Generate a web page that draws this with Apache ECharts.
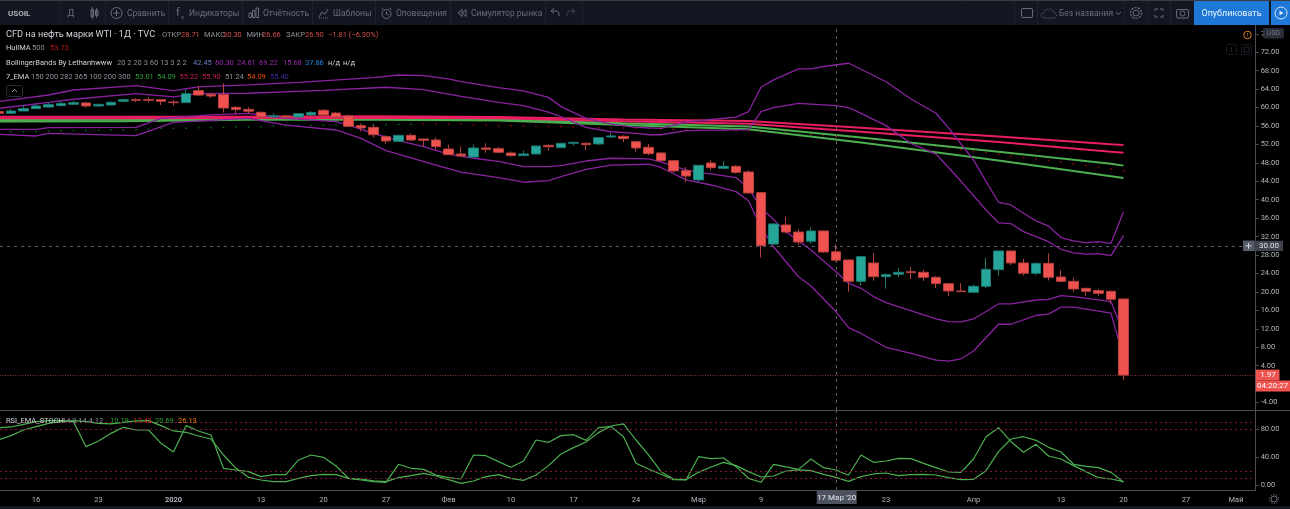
<!DOCTYPE html>
<html lang="ru">
<head>
<meta charset="utf-8">
<title>USOIL 1D</title>
<style>
html,body{margin:0;padding:0;background:#000;overflow:hidden}
#chart{width:1290px;height:509px}
</style>
<script src="https://cdn.jsdelivr.net/npm/echarts@6/dist/echarts.min.js"></script>
</head>
<body>
<div id="chart"></div>
<script>
// Trading days shown on the time axis, including the empty days to the right of the last bar
const dates = ['12-11','12-12','12-13','12-16','12-17','12-18','12-19','12-20','12-23','12-24','12-26','12-27','12-30','12-31',
  '01-02','01-03','01-06','01-07','01-08','01-09','01-10','01-13','01-14','01-15','01-16','01-17','01-20','01-21','01-22','01-23','01-24','01-27','01-28','01-29','01-30','01-31',
  '02-03','02-04','02-05','02-06','02-07','02-10','02-11','02-12','02-13','02-14','02-17','02-18','02-19','02-20','02-21','02-24','02-25','02-26','02-27','02-28',
  '03-02','03-03','03-04','03-05','03-06','03-09','03-10','03-11','03-12','03-13','03-16','03-17','03-18','03-19','03-20','03-23','03-24','03-25','03-26','03-27','03-30','03-31',
  '04-01','04-02','04-03','04-06','04-07','04-08','04-09','04-13','04-14','04-15','04-16','04-17','04-20',
  '04-21','04-22','04-23','04-24','04-27','04-28','04-29','04-30','05-01','05-04'];

const dateLabels = {'12-16':'16','12-23':'23','01-02':'2020','01-13':'13','01-20':'20','01-27':'27','02-03':'Фев','02-10':'10','02-17':'17','02-24':'24','03-02':'Мар','03-09':'9','03-23':'23','04-01':'Апр','04-13':'13','04-20':'20','04-27':'27','05-01':'Май'};

// Daily WTI prices
const opens = [59.10,58.75,59.25,59.76,60.10,60.40,60.70,61.00,60.34,60.55,61.35,61.72,61.72,61.72,61.20,61.06,63.66,62.87,62.80,60.05,59.60,58.97,58.00,58.17,57.95,58.40,59.40,58.80,58.17,56.07,55.70,53.69,52.67,53.97,53.18,52.96,51.00,49.93,49.27,51.23,51.08,50.14,49.57,49.93,51.80,51.30,52.24,52.24,52.10,53.61,53.76,52.60,51.37,50.14,48.48,46.30,44.30,47.97,46.82,47.25,46.02,41.54,30.40,34.53,33.00,30.99,33.23,28.71,26.94,22.30,26.29,23.32,23.83,24.40,24.26,23.18,21.80,20.21,19.93,21.23,24.84,28.89,26.29,24.05,26.20,23.25,22.30,20.79,20.29,20.14,18.48];
const closes = [58.75,59.25,59.76,60.34,60.63,60.90,61.06,60.34,60.70,61.13,61.70,61.57,61.57,61.35,61.06,63.00,62.70,62.50,59.90,59.55,59.20,58.00,58.20,57.95,58.67,58.90,58.40,57.95,55.93,55.57,54.10,52.75,53.97,52.96,52.89,51.52,49.78,49.50,51.23,50.94,50.30,49.57,49.93,51.66,51.50,52.24,52.46,51.95,53.47,53.83,53.25,51.23,50.00,48.50,46.24,45.15,47.47,46.96,47.25,45.95,41.47,30.10,34.75,33.00,30.84,33.23,28.67,26.90,22.30,27.66,23.32,23.76,24.26,24.19,23.18,21.80,20.21,20.07,21.23,24.90,28.89,26.29,24.05,26.20,23.18,22.30,20.65,20.14,19.71,18.41,1.97];
const lows = [58.60,58.60,59.20,59.70,60.05,60.27,60.55,60.05,60.10,60.40,61.13,61.20,61.13,60.55,60.40,61.00,62.50,62.07,58.90,58.75,58.75,57.67,57.67,57.15,57.70,58.20,57.90,57.80,55.70,54.80,53.50,52.10,52.50,52.75,51.50,50.87,49.70,49.30,49.20,50.20,50.07,49.42,49.50,49.90,50.60,51.20,51.73,50.80,51.90,53.40,52.53,50.43,49.70,48.40,45.90,43.80,43.93,46.45,46.60,45.66,41.40,27.44,30.20,32.70,30.20,30.40,28.50,26.66,20.07,21.37,22.45,20.72,23.20,22.80,22.38,20.86,19.13,19.99,19.85,20.80,23.54,25.85,23.54,23.60,22.50,22.10,20.00,19.20,19.13,17.54,0.90];
const highs = [59.20,59.70,60.50,60.77,61.06,61.35,61.50,61.20,60.85,61.28,61.90,62.00,62.30,61.86,61.64,64.03,64.74,63.20,65.26,60.34,60.05,59.10,58.75,58.40,58.80,59.25,59.70,59.00,58.50,56.50,56.30,54.00,54.10,54.40,53.25,53.50,51.95,51.50,51.95,52.24,51.45,50.50,50.65,51.75,52.00,52.35,52.55,52.40,53.55,54.55,53.95,52.70,52.10,50.35,48.65,47.10,47.55,48.60,48.40,47.50,46.40,41.60,34.85,36.34,33.60,34.00,33.30,30.30,27.05,27.75,28.45,24.00,25.13,25.35,24.77,23.45,21.95,21.88,21.60,27.37,28.95,28.95,27.15,26.43,28.40,24.70,23.10,20.90,20.57,20.30,18.55];

// Bollinger band vertices as [bar, price]
const bandOuterUpper = [[0,61.28],[4,62.72],[6,63.8],[11,64.75],[14,63.66],[16,64.5],[20,64.9],[24,65.47],[30,66.5],[32,67.06],[34,66.9],[36,66.2],[37,65.6],[40,64.3],[42,63.6],[44,62.2],[45,60.2],[47,57.66],[49,56.4],[51,55.7],[53,55.5],[55,56.9],[57,57.4],[59,57.9],[60,59.1],[61,64.4],[62,66],[64,68.4],[65,68.4],[66,68.9],[68,69.6],[69,68.3],[71,65.6],[73,61.85],[75,58.75],[76,55.6],[78,48.6],[79,44],[80,39.45],[81,38.87],[82,37.06],[83,35.4],[84,34.3],[85,31.8],[86,31.06],[87,30.7],[88,30.9],[89,30.55],[90,37.42]];
const bandInnerUpper = [[0,59.8],[4,61.1],[6,61.8],[11,63],[14,62.3],[16,63],[20,63.1],[26,63.7],[31,64.4],[34,63.9],[37,62.4],[40,61.1],[42,60.4],[44,59],[45,58],[47,55.7],[49,54.75],[51,54.4],[52,54.1],[53,54.1],[55,55],[58,55.1],[60,55.2],[61,59.1],[62,60],[64,60.9],[67,60.4],[68,60],[69,58.75],[71,56.07],[73,52.2],[75,49.9],[76,47],[77,44],[79,37.78],[80,35],[81,34.8],[82,33.08],[83,32],[84,30.9],[85,29.25],[86,28.5],[87,28.2],[88,28.3],[89,27.88],[90,32.2]];
const bandInnerLower = [[0,55.28],[3,55.28],[4,55.64],[11,55.71],[13,57.66],[17,58.4],[20,58.75],[23,57.66],[27,56.94],[28,56.2],[30,54.4],[32,52.8],[34,51.5],[36,49.9],[38,49],[40,48.3],[42,47.2],[44,47.2],[45,47.4],[47,48.4],[49,49],[52,48.85],[53,48.2],[54,47.3],[55,46.5],[56,45.9],[57,45.6],[59,44.8],[60,42.5],[61,38.3],[63,33.08],[65,29.1],[67,24.4],[68,21.9],[69,20.8],[70,19],[71,17.7],[75,14.14],[76,13.56],[77,13.5],[78,14.14],[80,17.4],[81,17.4],[83,18.26],[84,18.4],[85,19.2],[86,19],[89,17.9],[90,11.2]];
const bandOuterLower = [[0,54.2],[3,53.83],[4,54.4],[11,53.9],[14,56.8],[20,57.66],[23,56.2],[27,55.13],[29,53.3],[31,50.65],[33,49.1],[35,47.5],[37,46],[40,44.8],[42,43.8],[44,44.15],[45,45],[47,46.6],[49,47.5],[52,47.7],[53,47],[55,44.3],[57,43.2],[59,41.76],[60,39.8],[61,34],[62,29.8],[64,23.3],[65,21.3],[67,15.7],[68,12.26],[69,11],[71,8],[73,6.7],[75,5.2],[76,5],[77,5.5],[78,7.2],[80,13],[81,13],[83,14.9],[84,15.2],[85,16.7],[86,16.7],[89,15.4],[90,5.7]];

// Moving averages as [bar, price]
const emaRedHigh = [[0,58.0],[10,58.0],[20,58.0],[30,58.1],[40,57.95],[50,57.4],[60,57.1],[69,55.6],[80,53.7],[89,52.05],[90,51.88]];
const emaRedLow = [[0,57.7],[10,57.7],[20,57.75],[30,57.8],[40,57.65],[50,57.0],[60,56.5],[69,54.75],[80,52.5],[89,50.4],[90,50.2]];
const emaGreenHigh = [[0,57.3],[10,57.35],[20,57.55],[30,57.6],[40,57.4],[50,56.6],[60,55.9],[69,53.5],[80,50.4],[89,47.8],[90,47.4]];
const emaGreenLow = [[0,56.95],[10,57.0],[20,57.35],[30,57.35],[40,57.2],[50,56.2],[60,55.3],[69,52.4],[80,48.5],[89,45.1],[90,44.7]];

// Hull moving average, one dot per bar
const hullValues = [54.77,54.77,54.77,54.77,54.9,55,55,55,55.13,55.13,55.13,55.13,55.28,55.5,55.5,55.5,55.64,55.64,55.71,55.78,55.78,55.86,55.93,56,56.07,56.07,56.15,56.22,56.25,56.28,56.3,56.3,56.36,56.36,56.36,56.36,56.36,56.36,56.15,56.15,56,56,56,55.93,55.93,55.86,55.78,55.7,55.64,55.57,55.57,55.5,55.43,55.35,55.28,55.2,55.13,55.06,55,54.9,54.84,54.7,54.63,54.55,54.2,54.13,54,53.7,53.55,53.4,52.96,52.75,52.46,52.24,51.95,51.66,51.23,50.87,50.5,50.2,49.85,49.5,49.13,48.84,48.48,48.12,47.76,47.4,47.04,46.67,46.3];
const hullRisingBars = 34;

// Stochastic RSI pane
const stochK = [81.9,82.9,86.7,90.5,91.9,91.9,90.5,54.8,62.9,73.8,82.4,78.6,78.6,59.6,47.2,84.8,77.2,71.5,23.9,21.5,19.1,12,14.8,14.8,35.8,42.9,39.6,27.2,9.6,7.2,4.8,3.9,29.6,23.9,22.4,14.3,10.5,8.6,42.9,41.9,33.4,25.3,34.3,64.3,61,70.5,71.9,63.8,81.9,83.4,69,31,22.9,15.3,7.7,7.2,40.5,37.7,38.6,26.2,9.6,3.9,29.6,25.8,22.4,37.2,24.8,21.5,13.9,42.9,32.4,34.3,38.1,37.7,31,24.8,18.6,18.1,37.2,69,81.9,61.9,46.7,58.1,41.5,37.2,27.7,19.1,10.5,8.6,4.8];
const stochD = [64.3,70.5,78.6,83.4,88.1,90.5,91.9,90.5,88.1,87.2,89.5,91.5,91.9,84.8,77.2,75.3,70,65.7,42.9,23.9,11,7.2,4.8,4.8,9.6,13.4,15.3,14.8,9.6,8.6,5.8,4.8,10.5,13.4,16.7,12.9,7.7,2.4,5.8,12,14.8,9.6,6.7,14.3,27.7,44.3,53.4,61.5,74.8,84.3,87.2,64.3,42.9,19.1,8.6,7.7,18.1,25.8,32.4,27.7,19.1,11.5,12.9,20,21.5,20.5,15.3,11,5.3,12,15.8,17.2,13.4,14.8,15.3,14.3,10.5,7.7,8.2,20.5,47.7,65.7,69,63.8,53.8,47.2,29.6,26.7,24.8,18.1,3.9];
const stochLevels = [90,80,20,10];

// Price scale ticks
const priceTicks = [76,72,68,64,60,56,52,48,44,40,36,32,28,24,20,16,12,8,4,-4];
const stochTicks = [80,40,0];

const lastPrice = 1.97;
const crosshairPrice = 30;
const crosshairBar = dates.indexOf('03-17');
const dateTicks = dates.map((d, i) => i).filter(i => dates[i] in dateLabels);

const RED = '#ef5350', TEAL = '#26a69a', PURPLE = '#8a22a0', PINK = '#e91e63', GREEN = '#4caf50';
const TOOLBAR = '#131722', TXT = '#787b86', AXIS = '#4b4e57', LABEL = '#b2b5be';
const FONT = 'Roboto, "Noto Sans", sans-serif';

const chart = echarts.init(document.getElementById('chart'), null, {renderer: 'canvas'});

const lineSeries = (data, color, width, z) => ({
  type: 'line', data, xAxisIndex: 0, yAxisIndex: 0, showSymbol: false, silent: true, z,
  lineStyle: {color, width}, animation: false
});
const guide = (spec, color, type) => Object.assign({}, spec, {
  lineStyle: {color, type, width: 1}
});

const series = [
  {
    type: 'scatter', xAxisIndex: 0, yAxisIndex: 0, silent: true, z: 2, symbol: 'rect', symbolSize: 1.6,
    data: hullValues.map((v, i) => ({value: [i, v], itemStyle: {color: i < hullRisingBars ? '#0f7a1a' : '#a50f0f'}}))
  },
  lineSeries(emaGreenLow, GREEN, 2, 3),
  lineSeries(emaGreenHigh, GREEN, 2, 3),
  lineSeries(emaRedLow, PINK, 2, 3),
  lineSeries(emaRedHigh, PINK, 2, 3),
  lineSeries(bandOuterUpper, PURPLE, 1.3, 4),
  lineSeries(bandInnerUpper, PURPLE, 1.3, 4),
  lineSeries(bandInnerLower, PURPLE, 1.3, 4),
  lineSeries(bandOuterLower, PURPLE, 1.3, 4),
  {
    type: 'candlestick', xAxisIndex: 0, yAxisIndex: 0, silent: true, z: 6, barWidth: 10,
    data: opens.map((o, i) => [i, o, closes[i], lows[i], highs[i]]),
    itemStyle: {color: TEAL, color0: RED, borderColor: '#1c7a71', borderColor0: '#b5403e', borderWidth: 1},
    markLine: {
      silent: true, symbol: 'none', animation: false, label: {show: false},
      data: [
        guide({yAxis: lastPrice}, '#8f3230', [1, 1.5]),
        guide({yAxis: crosshairPrice}, '#5a5f69', [3, 4]),
        guide({xAxis: crosshairBar}, '#5a5f69', [3, 4])
      ]
    }
  },
  {
    type: 'line', data: stochK.map((v, i) => [i, v]), xAxisIndex: 1, yAxisIndex: 1, showSymbol: false, silent: true, z: 4,
    lineStyle: {color: GREEN, width: 1.2},
    markLine: {
      silent: true, symbol: 'none', animation: false, label: {show: false},
      data: stochLevels.map(v => guide({yAxis: v}, '#85123f', [2, 3]))
        .concat([guide({xAxis: crosshairBar}, '#5a5f69', [3, 4])])
    }
  },
  {
    type: 'line', data: stochD.map((v, i) => [i, v]), xAxisIndex: 1, yAxisIndex: 1, showSymbol: false, silent: true, z: 4,
    lineStyle: {color: GREEN, width: 1.2}
  }
];

const xCommon = {
  type: 'value', min: 0.12, max: 100.57,
  axisTick: {show: false}, splitLine: {show: false}
};
const yCommon = {
  type: 'value', position: 'right', splitLine: {show: false},
  axisLine: {show: true, lineStyle: {color: AXIS}}
};
const yLabel = (ticks) => ({
  color: LABEL, fontFamily: FONT, fontSize: 7.5, margin: 5, customValues: ticks,
  formatter: v => v.toFixed(2)
});

chart.setOption({
  backgroundColor: '#000',
  animation: false,
  grid: [
    {left: 0, width: 1255.65, top: 25, height: 385},
    {left: 0, width: 1255.65, top: 411, height: 79}
  ],
  xAxis: [
    Object.assign({}, xCommon, {gridIndex: 0, axisLine: {show: false}, axisLabel: {show: false}}),
    Object.assign({}, xCommon, {
      gridIndex: 1,
      axisLine: {show: true, onZero: false, lineStyle: {color: AXIS}},
      axisLabel: {
        color: LABEL, fontFamily: FONT, fontSize: 7.5, margin: 6, customValues: dateTicks,
        formatter: v => dateLabels[dates[v]] === '2020' ? '{b|2020}' : dateLabels[dates[v]],
        rich: {b: {color: LABEL, fontFamily: FONT, fontSize: 7.5, fontWeight: 'bold'}}
      }
    })
  ],
  yAxis: [
    Object.assign({}, yCommon, {
      gridIndex: 0, min: -5.6, max: 77.9,
      axisLabel: yLabel(priceTicks),
      axisTick: {show: true, length: 3, lineStyle: {color: AXIS}, customValues: priceTicks}
    }),
    Object.assign({}, yCommon, {
      gridIndex: 1, min: -7.1, max: 105.7,
      axisLabel: yLabel(stochTicks),
      axisTick: {show: true, length: 3, lineStyle: {color: AXIS}, customValues: stochTicks}
    })
  ],
  series
});

// Helpers for the interface elements around the panes
const Z = 100;
const txt = (x, y, text, fill, size, extra) => ({
  type: 'text', z: Z, silent: true,
  style: {x, y, text, fill, font: `${(extra && extra.weight) || 'normal'} ${size}px ${FONT}`, verticalAlign: 'middle', align: (extra && extra.align) || 'left'}
});
const box = (x, y, w, h, fill, stroke, r) => ({
  type: 'rect', z: Z, silent: true, shape: {x, y, width: w, height: h, r: r || 0},
  style: {fill: fill || 'none', stroke: stroke || 'none', lineWidth: 1}
});
const seg = (x1, y1, x2, y2, stroke, w, dash) => ({
  type: 'line', z: Z, silent: true, shape: {x1, y1, x2, y2},
  style: {stroke, lineWidth: w || 1, lineDash: dash || null}
});
const ring = (cx, cy, r, stroke, w, dash) => ({
  type: 'circle', z: Z, silent: true, shape: {cx, cy, r},
  style: {fill: 'none', stroke, lineWidth: w || 1, lineDash: dash || null}
});
const poly = (points, stroke, w, dash) => ({
  type: 'polyline', z: Z, silent: true, shape: {points},
  style: {fill: 'none', stroke, lineWidth: w || 1, lineDash: dash || null}
});

const toolbarGrey = '#6a6d78';
const sep = '#1e222d';
const toolbar = [
  box(0, 0, 1290, 25, TOOLBAR),
  seg(0, 0.5, 1290, 0.5, '#3a3a3a'),
  txt(8, 13.5, 'USOIL', LABEL, 8, {weight: 'bold'}),
  txt(71, 13.5, 'Д', toolbarGrey, 9, {align: 'center'}),
  // candle type icon
  box(91, 9.5, 2.5, 7, null, toolbarGrey), seg(92.2, 7, 92.2, 19, toolbarGrey),
  box(95.5, 10.5, 2.5, 5, null, toolbarGrey), seg(96.7, 8, 96.7, 18, toolbarGrey),
  // compare
  ring(116.5, 13, 5.5, toolbarGrey), seg(116.5, 10, 116.5, 16, toolbarGrey), seg(113.5, 13, 119.5, 13, toolbarGrey),
  txt(127, 13.5, 'Сравнить', toolbarGrey, 8.5),
  // indicators
  txt(176, 13, 'f', toolbarGrey, 11), txt(181, 17, 'x', toolbarGrey, 6),
  txt(189, 13.5, 'Индикаторы', toolbarGrey, 8.5),
  // financials
  box(249, 13, 2.5, 4.5, null, toolbarGrey), box(252.5, 10.5, 2.5, 7, null, toolbarGrey), box(256, 8, 2.5, 9.5, null, toolbarGrey),
  txt(263, 13.5, 'Отчётность', toolbarGrey, 8.5),
  // templates
  poly([[319, 17], [322, 12], [325, 14], [328, 9]], toolbarGrey), seg(319, 18, 329, 18, toolbarGrey, 1, [1, 1]),
  txt(333, 13.5, 'Шаблоны', toolbarGrey, 8.5),
  // alerts
  ring(386.5, 14, 4.5, toolbarGrey), seg(386.5, 11.5, 386.5, 14, toolbarGrey), seg(386.5, 14, 388.5, 15, toolbarGrey),
  seg(381.5, 9.5, 383.5, 8, toolbarGrey), seg(389.5, 8, 391.5, 9.5, toolbarGrey),
  txt(396, 13.5, 'Оповещения', toolbarGrey, 8.5),
  // replay
  poly([[462, 9.5], [458, 13], [462, 16.5], [462, 9.5]], toolbarGrey), poly([[466, 9.5], [462.5, 13], [466, 16.5], [466, 9.5]], toolbarGrey),
  txt(471, 13.5, 'Симулятор рынка', toolbarGrey, 8.5),
  // undo, redo
  poly([[554, 8.5], [551, 11], [554, 13.5]], toolbarGrey), poly([[551, 11], [557, 11], [559, 13], [559, 16]], toolbarGrey),
  poly([[572, 8.5], [575, 11], [572, 13.5]], '#3d404a'), poly([[575, 11], [569, 11], [567, 13], [567, 16]], '#3d404a'),
  // right side
  box(1021.5, 8.5, 11, 9, null, toolbarGrey, 1),
  poly([[1044, 18], [1042, 17], [1041, 15.5], [1042, 13.7], [1044, 13], [1045, 10.5], [1047, 9.2], [1050, 9], [1052.5, 10.3], [1054, 12.5], [1056, 13.5], [1056.5, 15.5], [1055.5, 17.3], [1054, 18], [1044, 18]], toolbarGrey, 0.8, [1.5, 1]),
  txt(1059, 13.5, 'Без названия', toolbarGrey, 8.5),
  poly([[1116, 12], [1118.5, 14.5], [1121, 12]], toolbarGrey),
  ring(1136, 13, 3, toolbarGrey), ring(1136, 13, 5.5, toolbarGrey, 1.2, [2.2, 1.2]),
  poly([[1155, 11], [1155, 9], [1158, 9]], toolbarGrey), poly([[1160, 9], [1163, 9], [1163, 11]], toolbarGrey),
  poly([[1155, 15], [1155, 17], [1158, 17]], toolbarGrey), poly([[1160, 17], [1163, 17], [1163, 15]], toolbarGrey),
  box(1176.5, 9.5, 12, 8.5, null, toolbarGrey, 1.5), ring(1182.5, 13.5, 2.5, toolbarGrey),
  box(1194, 1, 75, 24, '#1e78d8'),
  txt(1231.5, 13.5, 'Опубликовать', '#e8f0fa', 9, {align: 'center'}),
  box(1271, 1, 19, 24, '#1e78d8'),
  ring(1281, 13, 6, '#d8e6f8'),
  {type: 'polygon', z: Z, silent: true, shape: {points: [[1279.5, 10.5], [1279.5, 15.5], [1283.5, 13]]}, style: {fill: '#d8e6f8'}},
  seg(60.5, 1, 60.5, 25, sep), seg(105.5, 1, 105.5, 25, sep), seg(168.5, 1, 168.5, 25, sep),
  seg(242.5, 1, 242.5, 25, sep), seg(312.5, 1, 312.5, 25, sep), seg(375.5, 1, 375.5, 25, sep),
  seg(450.5, 1, 450.5, 25, sep), seg(545.5, 1, 545.5, 25, sep), seg(582.5, 1, 582.5, 25, sep),
  seg(1014.5, 1, 1014.5, 25, sep), seg(1037.5, 1, 1037.5, 25, sep), seg(1124.5, 1, 1124.5, 25, sep),
  seg(1147.5, 1, 1147.5, 25, sep), seg(1170.5, 1, 1170.5, 25, sep)
];

const legendGrey = '#8f929c', legendText = '#d1d4dc', legendRed = '#d4504c';
const legends = [
  txt(6, 35, 'CFD на нефть марки WTI · 1Д · TVC', legendText, 9.2),
  txt(162, 35, 'ОТКР', legendGrey, 7.5), txt(181, 35, '28.71', legendRed, 7.5),
  txt(204, 35, 'МАКС', legendGrey, 7.5), txt(223, 35, '30.30', legendRed, 7.5),
  txt(246.5, 35, 'МИН', legendGrey, 7.5), txt(262, 35, '26.66', legendRed, 7.5),
  txt(286, 35, 'ЗАКР', legendGrey, 7.5), txt(305, 35, '26.90', legendRed, 7.5),
  txt(328, 35, '−1.81 (−6.30%)', legendRed, 7.5),
  txt(6, 48.5, 'HullMA', legendText, 7.5), txt(32, 48.5, '500', legendGrey, 7.5), txt(50, 48.5, '53.73', '#c21818', 7.5),
  txt(6, 63, 'BollingerBands By Lethanhwww', legendText, 7.5),
  txt(117, 63, '20 2 20 3 60 13 3 2 2', legendGrey, 7.5),
  txt(193, 63, '42.45', '#6f7bc8', 7.5), txt(215, 63, '60.30', '#9c27b0', 7.5), txt(237, 63, '24.61', '#9c27b0', 7.5),
  txt(259, 63, '69.22', '#9c27b0', 7.5), txt(283, 63, '15.68', '#9c27b0', 7.5), txt(305, 63, '37.86', '#1e88e5', 7.5),
  txt(328, 63, 'н/д', legendText, 7.5), txt(343, 63, 'н/д', legendText, 7.5),
  txt(6, 77, '7_EMA', legendText, 7.5), txt(31, 77, '150 200 282 365 100 200 300', legendGrey, 7.5),
  txt(135, 77, '53.01', '#2e9e38', 7.5), txt(157, 77, '54.09', '#2e9e38', 7.5), txt(179.5, 77, '55.22', '#c2185b', 7.5),
  txt(202, 77, '55.90', '#c2185b', 7.5), txt(225, 77, '51.24', legendGrey, 7.5), txt(247, 77, '54.09', '#e65100', 7.5),
  txt(270, 77, '55.40', '#4527a0', 7.5),
  box(6.5, 85.5, 16, 11, '#000', '#2a2e39', 2),
  poly([[12, 92], [14.5, 89.5], [17, 92]], '#9598a1'),
  txt(6, 421, 'RSI_EMA_STOCH', legendText, 7.5), txt(62, 421, '14 3 14 4 12', legendGrey, 7.5),
  txt(110, 421, '10.18', '#2e9e38', 7.5), txt(133, 421, '17.43', '#c62828', 7.5),
  txt(155, 421, '20.69', '#2e9e38', 7.5), txt(178, 421, '26.13', '#ef7c00', 7.5),
  ring(1247.5, 35, 3.8, '#d8822e'), txt(1247.5, 35.3, '!', '#d8822e', 6, {align: 'center'}),
  box(1226.5, 44.5, 10, 10, null, '#15171d', 1), box(1241.5, 44.5, 10, 10, null, '#15171d', 1),
  seg(1231.5, 47, 1231.5, 52, '#22252e'), box(1244, 47, 5, 5, null, '#22252e')
];

const yPrice = chart.convertToPixel({yAxisIndex: 0}, lastPrice);
const yCross = chart.convertToPixel({yAxisIndex: 0}, crosshairPrice);
const xCross = chart.convertToPixel({xAxisIndex: 0}, crosshairBar);

const tags = [
  seg(0, 410.5, 1290, 410.5, AXIS),
  box(1263, 28, 21, 10.5, '#2a2e39', null, 2),
  txt(1273.5, 33.5, 'USD', TXT, 7, {align: 'center'}),
  // price and countdown flags
  box(1255.7, yPrice - 5.5, 23.8, 11, RED),
  txt(1268, yPrice + 0.3, lastPrice.toFixed(2), '#fff', 8, {align: 'center'}),
  box(1255.7, yPrice + 5.5, 34.3, 11, RED),
  txt(1272.5, yPrice + 11.3, '04:20:27', '#fff', 8, {align: 'center'}),
  // crosshair flags
  box(1243, yCross - 5.2, 40, 10.4, '#3f434f'),
  box(1243, yCross - 5.2, 11, 10.4, '#565b68'),
  seg(1245.5, yCross, 1251.5, yCross, '#d1d4dc'), seg(1248.5, yCross - 3, 1248.5, yCross + 3, '#d1d4dc'),
  txt(1269, yCross + 0.3, crosshairPrice.toFixed(2), '#e4e6ea', 8, {align: 'center'}),
  box(xCross - 19.3, 490, 40, 14, '#4c525e'),
  txt(xCross + 0.7, 497.5, "17 Мар '20", '#e4e6ea', 8, {align: 'center'}),
  // bottom strip and scale settings
  box(0, 506, 1290, 3, TOOLBAR),
  ring(1274, 499, 3, '#6a6d78'), ring(1274, 499, 4.5, '#6a6d78', 1, [1.5, 1.3])
];

chart.setOption({graphic: {elements: toolbar.concat(legends, tags)}});
</script>
</body>
</html>
